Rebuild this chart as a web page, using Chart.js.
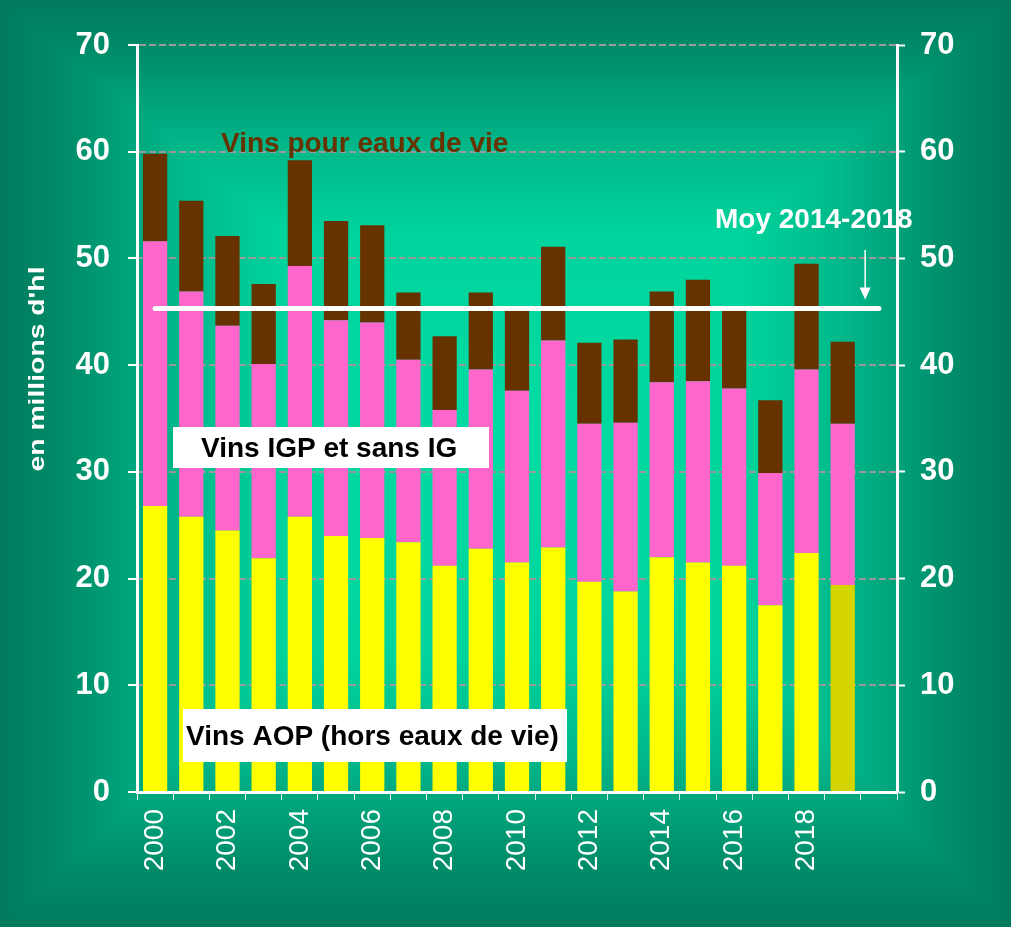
<!DOCTYPE html>
<html>
<head>
<meta charset="utf-8">
<script src="https://cdn.jsdelivr.net/npm/chart.js@4/dist/chart.umd.min.js"></script>
<style>
  html, body { margin: 0; padding: 0; background: #008a68; overflow: hidden; }
  #wrap { width: 1011px; height: 927px; position: relative; }
  canvas { display: block; }
</style>
</head>
<body>
<div id="wrap"><canvas id="c" width="1011" height="927"></canvas></div>
<script>
// ---- Data (millions d'hl) ----
const years = ['2000','2001','2002','2003','2004','2005','2006','2007','2008','2009',
               '2010','2011','2012','2013','2014','2015','2016','2017','2018','2019','2020'];
const shownYearLabels = ['2000','2002','2004','2006','2008','2010','2012','2014','2016','2018'];
const vinsAOP = [26.8, 25.8, 24.5, 21.9, 25.8, 24.0, 23.8, 23.4, 21.2, 22.8,
                 21.5, 22.9, 19.7, 18.8, 22.0, 21.5, 21.2, 17.5, 22.4, 19.4, null];
const vinsIGP = [24.8, 21.1, 19.2, 18.2, 23.5, 20.2, 20.2, 17.1, 14.6, 16.8,
                 16.1, 19.4, 14.8, 15.8, 16.4, 17.0, 16.6, 12.4, 17.2, 15.1, null];
const vinsEauxDeVie = [8.2, 8.5, 8.4, 7.5, 9.9, 9.3, 9.1, 6.3, 6.9, 7.2,
                       7.5, 8.8, 7.6, 7.8, 8.5, 9.5, 7.3, 6.8, 9.9, 7.7, null];
const moyenne20142018 = 45.3;
const moyenneExtent = ['2000', '2020'];
const yTicks = [0, 10, 20, 30, 40, 50, 60, 70];
const estimatedYear = '2019';

// ---- Styles ----
const FONT = "'Liberation Sans', Arial, Helvetica, sans-serif";
const YELLOW = '#ffff00', YELLOW_EST = '#d4d400', PINK = '#ff66cc', BROWN = '#663300';

const bgPlugin = {
  id: 'bgGradient',
  beforeDraw(chart) {
    const ctx = chart.ctx, W = chart.width, H = chart.height;
    const cx = 520, cy = 430;
    const stops = [[0, '#00dca2'], [0.45, '#00d49c'], [0.65, '#00b98b'], [0.85, '#00916d'], [1, '#007a5c']];
    const parts = [
      { a: [0, 0], b: [W, 0], g: [cx, cy, cx, 0] },
      { a: [W, 0], b: [W, H], g: [cx, cy, W, cy] },
      { a: [W, H], b: [0, H], g: [cx, cy, cx, H] },
      { a: [0, H], b: [0, 0], g: [cx, cy, 0, cy] }
    ];
    ctx.save();
    ctx.fillStyle = '#00a57e';
    ctx.fillRect(0, 0, W, H);
    for (const p of parts) {
      const grad = ctx.createLinearGradient(...p.g);
      stops.forEach(s => grad.addColorStop(s[0], s[1]));
      ctx.beginPath();
      ctx.moveTo(cx, cy);
      ctx.lineTo(p.a[0], p.a[1]);
      ctx.lineTo(p.b[0], p.b[1]);
      ctx.closePath();
      ctx.fillStyle = grad;
      ctx.fill();
      ctx.strokeStyle = grad;
      ctx.lineWidth = 1;
      ctx.stroke();
    }
    ctx.restore();
  }
};

const annotationsPlugin = {
  id: 'annotations',
  afterDatasetsDraw(chart) {
    const ctx = chart.ctx;
    const xs = chart.scales.x, ys = chart.scales.y;
    ctx.save();
    // Arrow pointing to average line
    const ax = xs.getPixelForValue(19.62);
    const yTop = ys.getPixelForValue(50.8);
    const yTip = ys.getPixelForValue(moyenne20142018 + 0.85);
    ctx.strokeStyle = '#ffffff';
    ctx.fillStyle = '#ffffff';
    ctx.lineWidth = 1.5;
    ctx.beginPath();
    ctx.moveTo(ax, yTop);
    ctx.lineTo(ax, yTip - 10);
    ctx.stroke();
    ctx.beginPath();
    ctx.moveTo(ax - 5.5, yTip - 12);
    ctx.lineTo(ax + 5.5, yTip - 12);
    ctx.lineTo(ax, yTip);
    ctx.closePath();
    ctx.fill();

    ctx.textAlign = 'left';
    ctx.textBaseline = 'alphabetic';
    ctx.font = `bold 28px ${FONT}`;
    // Series labels
    ctx.fillStyle = BROWN;
    ctx.fillText('Vins pour eaux de vie', 221, 152);
    ctx.fillStyle = '#ffffff';
    ctx.fillText('Moy 2014-2018', 715, 228);

    ctx.fillStyle = '#ffffff';
    ctx.fillRect(173, 427, 316, 41);
    ctx.fillStyle = '#000000';
    ctx.fillText('Vins IGP et sans IG', 201, 457);

    ctx.fillStyle = '#ffffff';
    ctx.fillRect(183, 709, 384, 53);
    ctx.fillStyle = '#000000';
    ctx.fillText('Vins AOP (hors eaux de vie)', 186, 745);

    // Y axis title
    ctx.translate(38, 369);
    ctx.rotate(-Math.PI / 2);
    ctx.font = `bold 22px ${FONT}`;
    const title = "en millions d'hl";
    const w = ctx.measureText(title).width;
    ctx.scale(205 / w, 1);
    ctx.textAlign = 'center';
    ctx.textBaseline = 'middle';
    ctx.fillStyle = '#ffffff';
    ctx.fillText(title, 0, 0);
    ctx.restore();
  }
};

const tickFont = { family: FONT, size: 31, weight: 'bold' };

new Chart(document.getElementById('c'), {
  data: {
    labels: years,
    datasets: [
      {
        type: 'bar', label: 'Vins AOP (hors eaux de vie)', data: vinsAOP, stack: 'vins', order: 1,
        backgroundColor: years.map(y => y === estimatedYear ? YELLOW_EST : YELLOW),
        barPercentage: 0.67, categoryPercentage: 1.0, borderWidth: 0
      },
      {
        type: 'bar', label: 'Vins IGP et sans IG', data: vinsIGP, stack: 'vins', order: 1,
        backgroundColor: PINK, barPercentage: 0.67, categoryPercentage: 1.0, borderWidth: 0
      },
      {
        type: 'bar', label: 'Vins pour eaux de vie', data: vinsEauxDeVie, stack: 'vins', order: 1,
        backgroundColor: BROWN, barPercentage: 0.67, categoryPercentage: 1.0, borderWidth: 0
      },
      {
        type: 'line', label: 'Moy 2014-2018', stack: 'moy', order: 0,
        data: moyenneExtent.map(y => ({ x: y, y: moyenne20142018 })),
        borderColor: '#ffffff', borderWidth: 5, borderCapStyle: 'round',
        pointRadius: 0, fill: false, tension: 0
      }
    ]
  },
  options: {
    responsive: false,
    devicePixelRatio: 1,
    animation: false,
    layout: { padding: { top: 45, left: 0, right: 0, bottom: 0 } },
    plugins: { legend: { display: false }, tooltip: { enabled: false } },
    scales: {
      x: {
        type: 'category',
        stacked: true,
        offset: true,
        grid: { display: true, offset: true, drawOnChartArea: false, drawTicks: true,
                tickLength: 8, tickColor: '#dfeee9', tickWidth: 1, color: 'rgba(0,0,0,0)' },
        border: { display: true, color: '#ffffff', width: 3 },
        ticks: {
          autoSkip: false, maxRotation: 90, minRotation: 90, padding: 9,
          color: '#ffffff', font: { family: FONT, size: 28 },
          callback: (v, i) => shownYearLabels.includes(years[i]) ? years[i] : ''
        },
        afterFit: s => { s.height = 135; }
      },
      y: {
        position: 'left',
        stacked: true,
        min: 0, max: 70,
        afterBuildTicks: s => { s.ticks = yTicks.map(v => ({ value: v })); },
        ticks: { color: '#ffffff', font: tickFont, padding: 18 },
        grid: { color: '#9a9a9a', lineWidth: 2, drawTicks: true, tickLength: 9,
                tickColor: '#ffffff', tickWidth: 2 },
        border: { display: true, color: '#ffffff', width: 3, dash: [7, 3] },
        afterFit: s => { s.width = 137; }
      },
      y2: {
        position: 'right',
        min: 0, max: 70,
        afterBuildTicks: s => { s.ticks = yTicks.map(v => ({ value: v })); },
        ticks: { color: '#ffffff', font: tickFont, padding: 15 },
        grid: { drawOnChartArea: false, drawTicks: true, tickLength: 8,
                tickColor: '#ffffff', tickWidth: 2 },
        border: { display: true, color: '#ffffff', width: 3 },
        afterFit: s => { s.width = 114; }
      }
    }
  },
  plugins: [bgPlugin, annotationsPlugin]
});
</script>
</body>
</html>
